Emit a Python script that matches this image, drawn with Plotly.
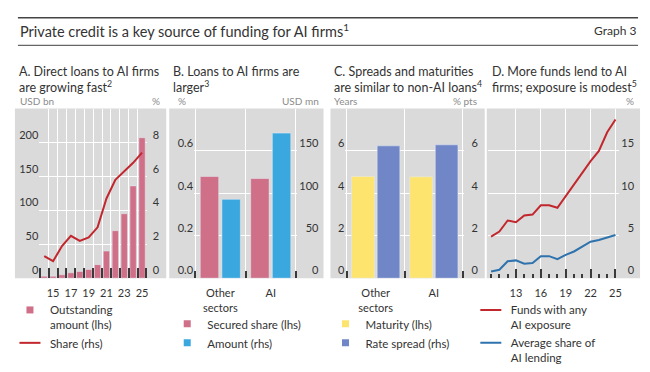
import plotly.graph_objects as go

W, H = 650, 372


def fx(px):
    return px / W


def fy(py):
    return 1 - py / H


# ---------------- data ----------------
years_a = [14, 15, 16, 17, 18, 19, 20, 21, 22, 23, 24, 25]
outstanding_usd_bn = [3, 3, 5, 8, 10, 13, 20, 40, 70, 95, 136, 207]
share_pct = [1.3, 1.0, 1.9, 2.5, 2.2, 2.4, 3.0, 4.7, 5.8, 6.3, 6.8, 7.4]
tick_years_a = [15, 17, 19, 21, 23, 25]

categories = [0, 1]
category_labels = ["Other<br>sectors", "AI"]
secured_share = [0.48, 0.47]
loan_amount_usd_mn = [93, 171]
maturity_years = [4.8, 4.78]
rate_spread_pts = [6.24, 6.29]

years_d = [10, 11, 12, 13, 14, 15, 16, 17, 18, 19, 20, 21, 22, 23, 24, 25]
funds_any_ai_pct = [4.9, 5.5, 6.8, 6.6, 7.4, 7.5, 8.6, 8.6, 8.3, 9.7, 11.0, 12.4, 13.8, 15.0, 17.2, 18.7]
avg_ai_share_pct = [0.8, 1.0, 2.0, 2.1, 1.7, 1.8, 2.6, 2.6, 2.25, 2.75, 3.15, 3.7, 4.3, 4.5, 4.8, 5.1]
tick_years_d = [13, 16, 19, 22, 25]

# ---------------- style ----------------
FONT = "Lato"
TXT = "#333333"
UNIT = "#8c8c8c"
GREY = "#dadada"
TICK = "#3a3a3a"
PINK = "#cf7088"
RED = "#c1272d"
BLUE = "#3aa8de"
YELLOW = "#fde46e"
PERI = "#7086c6"
DBLUE = "#2f73ae"

Y0, Y1 = 282, 110
ydom = [fy(Y0), fy(Y1)]
tickfont = dict(family=FONT, size=11, color=TXT)

fig = go.Figure()

# ---- Panel A ----
fig.add_trace(go.Bar(x=years_a, y=outstanding_usd_bn, marker_color=PINK, width=0.72,
                     xaxis="x", yaxis="y", showlegend=False))
fig.add_trace(go.Scatter(x=years_a, y=share_pct, mode="lines", line=dict(color=RED, width=2),
                         xaxis="x", yaxis="y2", showlegend=False))
fig.add_trace(go.Scatter(x=[None], y=[None], mode="markers", xaxis="x", yaxis="y",
                         marker=dict(symbol="square", size=7, color=PINK),
                         name="Outstanding<br>amount (lhs)", legend="legend"))
fig.add_trace(go.Scatter(x=[None], y=[None], mode="markers", xaxis="x", yaxis="y",
                         marker=dict(symbol="line-ew", size=15, line=dict(width=2, color=RED)),
                         name="Share (rhs)", legend="legend"))

# ---- Panel B ----
fig.add_trace(go.Bar(x=categories, y=secured_share, marker_color=PINK, width=0.366, offset=-0.398,
                     xaxis="x2", yaxis="y3", showlegend=False))
fig.add_trace(go.Bar(x=categories, y=loan_amount_usd_mn, marker_color=BLUE, width=0.366, offset=0.032,
                     xaxis="x2", yaxis="y4", showlegend=False))
fig.add_trace(go.Scatter(x=[None], y=[None], mode="markers", xaxis="x2", yaxis="y3",
                         marker=dict(symbol="square", size=7, color=PINK),
                         name="Secured share (lhs)", legend="legend2"))
fig.add_trace(go.Scatter(x=[None], y=[None], mode="markers", xaxis="x2", yaxis="y3",
                         marker=dict(symbol="square", size=7, color=BLUE),
                         name="Amount (rhs)", legend="legend2"))

# ---- Panel C ----
fig.add_trace(go.Bar(x=categories, y=maturity_years, marker_color=YELLOW, width=0.39, offset=-0.415,
                     xaxis="x3", yaxis="y5", showlegend=False))
fig.add_trace(go.Bar(x=categories, y=rate_spread_pts, marker_color=PERI, width=0.39, offset=0.025,
                     xaxis="x3", yaxis="y6", showlegend=False))
fig.add_trace(go.Scatter(x=[None], y=[None], mode="markers", xaxis="x3", yaxis="y5",
                         marker=dict(symbol="square", size=7, color=YELLOW),
                         name="Maturity (lhs)", legend="legend3"))
fig.add_trace(go.Scatter(x=[None], y=[None], mode="markers", xaxis="x3", yaxis="y5",
                         marker=dict(symbol="square", size=7, color=PERI),
                         name="Rate spread (rhs)", legend="legend3"))

# ---- Panel D ----
fig.add_trace(go.Scatter(x=years_d, y=funds_any_ai_pct, mode="lines", line=dict(color=RED, width=2),
                         xaxis="x4", yaxis="y7", showlegend=False))
fig.add_trace(go.Scatter(x=years_d, y=avg_ai_share_pct, mode="lines", line=dict(color=DBLUE, width=2),
                         xaxis="x4", yaxis="y7", showlegend=False))
fig.add_trace(go.Scatter(x=[None], y=[None], mode="markers", xaxis="x4", yaxis="y7",
                         marker=dict(symbol="line-ew", size=15, line=dict(width=2, color=RED)),
                         name="Funds with any<br>AI exposure", legend="legend4"))
fig.add_trace(go.Scatter(x=[None], y=[None], mode="markers", xaxis="x4", yaxis="y7",
                         marker=dict(symbol="line-ew", size=15, line=dict(width=2, color=DBLUE)),
                         name="Average share of<br>AI lending", legend="legend4"))


def xaxis_cat(dom, rng, tickvals, ticktext, tick0, ticklen):
    return dict(domain=dom, range=rng, tickvals=tickvals, ticktext=ticktext, ticks="",
                showgrid=False, zeroline=False, showline=False, tickfont=tickfont,
                ticklabelstandoff=7,
                minor=dict(tick0=tick0, dtick=1, ticks="inside", ticklen=ticklen, tickwidth=2,
                           tickcolor=TICK, showgrid=True, gridcolor="white", gridwidth=1))


def yleft(anchor, rng, tickvals, ticktext=None):
    d = dict(domain=ydom, range=rng, anchor=anchor, tickvals=tickvals, ticks="",
             ticklabelposition="outside top", showgrid=True, gridcolor="white", gridwidth=1,
             zeroline=False, showline=False, tickfont=tickfont)
    if ticktext is not None:
        d["ticktext"] = ticktext
    return d


def yright(overlay, pos_px, rng, tickvals, grid=False):
    d = dict(domain=ydom, range=rng, anchor="free", position=fx(pos_px), side="right",
             tickvals=tickvals, ticks="", ticklabelposition="inside top",
             showgrid=grid, gridcolor="white", gridwidth=1,
             zeroline=False, showline=False, tickfont=tickfont)
    if overlay:
        d["overlaying"] = overlay
    return d


xa = xaxis_cat([fx(39.5), fx(147.6)], [13.45, 25.55], tick_years_a, [str(v) for v in tick_years_a], 13.5, 10)
xa["anchor"] = "y"
xb = xaxis_cat([fx(195.0), fx(298.3)], [-0.52, 1.52], categories, category_labels, -0.5, 7)
xb["anchor"] = "y3"
xc = xaxis_cat([fx(347.1), fx(466.2)], [-0.52, 1.52], categories, category_labels, -0.5, 7)
xc["anchor"] = "y5"
xd = dict(domain=[fx(490), fx(622)], range=[9.6, 25.44], anchor="y7",
          tickvals=tick_years_d, ticktext=[str(v) for v in tick_years_d],
          ticks="inside", ticklen=9, tickwidth=2, ticklabelstandoff=7,
          tickcolor=TICK, showgrid=True, gridcolor="white", gridwidth=1, zeroline=False,
          showline=False, tickfont=tickfont,
          minor=dict(tick0=10, dtick=1, ticks="inside", ticklen=4, tickwidth=1.5, tickcolor=TICK,
                     showgrid=False))

fig.update_layout(
    width=W, height=H, autosize=False,
    margin=dict(l=0, r=0, t=0, b=0, pad=0),
    paper_bgcolor="white", plot_bgcolor="rgba(0,0,0,0)",
    barmode="overlay", font=dict(family=FONT, color=TXT),
    xaxis=xa,
    yaxis=yleft("x", [0, 250], [0, 50, 100, 150, 200]),
    yaxis2=yright("y", 163, [0, 10], [0, 2, 4, 6, 8]),
    xaxis2=xb,
    yaxis3=yleft("x2", [0, 0.8], [0, 0.2, 0.4, 0.6], ["0.0", "0.2", "0.4", "0.6"]),
    yaxis4=yright("y3", 323, [0, 200], [0, 50, 100, 150]),
    xaxis3=xc,
    yaxis5=yleft("x3", [0, 8], [0, 2, 4, 6]),
    yaxis6=yright("y5", 483, [0, 8], [0, 2, 4, 6]),
    xaxis4=xd,
    yaxis7=yright(None, 640, [0, 20], [0, 5, 10, 15], grid=True),
)

legend_common = dict(xanchor="left", yanchor="top", valign="top", bgcolor="rgba(0,0,0,0)",
                     borderwidth=0, tracegroupgap=0, font=dict(family=FONT, size=11.5, color=TXT))
fig.update_layout(
    legend=dict(x=fx(10), y=fy(300), **legend_common),
    legend2=dict(x=fx(168), y=fy(314), **legend_common),
    legend3=dict(x=fx(327), y=fy(314), **legend_common),
    legend4=dict(x=fx(473), y=fy(300), **legend_common),
)

shapes = []
for x0, x1 in [(15, 167), (170, 325), (332, 487), (489, 643)]:
    shapes.append(dict(type="rect", xref="paper", yref="paper", x0=fx(x0), x1=fx(x1),
                       y0=fy(Y0), y1=fy(Y1), fillcolor=GREY, line=dict(width=0), layer="below"))
shapes.append(dict(type="line", xref="paper", yref="paper", x0=fx(18), x1=fx(641),
                   y0=fy(18), y1=fy(18), line=dict(color="#444", width=1.5)))
shapes.append(dict(type="line", xref="paper", yref="paper", x0=fx(18), x1=fx(641),
                   y0=fy(46), y1=fy(46), line=dict(color="#666", width=1.2)))

ann = []


def text(x, y, s, size, color=TXT, xanchor="left", yanchor="middle"):
    ann.append(dict(x=fx(x), y=fy(y), xref="paper", yref="paper", text=s, showarrow=False,
                    xanchor=xanchor, yanchor=yanchor, align="left",
                    font=dict(family=FONT, size=size, color=color)))


text(18, 31, "Private credit is a key source of funding for AI firms<sup>1</sup>", 14.5)
text(641, 31, "Graph 3", 12, xanchor="right")

text(17, 63, "A. Direct loans to AI firms<br>are growing fast<sup>2</sup>", 12.5, yanchor="top")
text(172, 63, "B. Loans to AI firms are<br>larger<sup>3</sup>", 12.5, yanchor="top")
text(334, 63, "C. Spreads and maturities<br>are similar to non-AI loans<sup>4</sup>", 12.5, yanchor="top")
text(492, 63, "D. More funds lend to AI<br>firms; exposure is modest<sup>5</sup>", 12.5, yanchor="top")

text(18, 102, "USD bn", 10, UNIT)
text(163, 102, "%", 10, UNIT, xanchor="right")
text(177, 102, "%", 10, UNIT)
text(322, 102, "USD mn", 10, UNIT, xanchor="right")
text(334, 102, "Years", 10, UNIT)
text(481, 102, "% pts", 10, UNIT, xanchor="right")
text(639, 102, "%", 10, UNIT, xanchor="right")

fig.update_layout(shapes=shapes, annotations=ann)

fig.write_html("out.html", config={"displayModeBar": False},
               post_script="document.body.style.margin='0';document.body.style.overflow='hidden';")
